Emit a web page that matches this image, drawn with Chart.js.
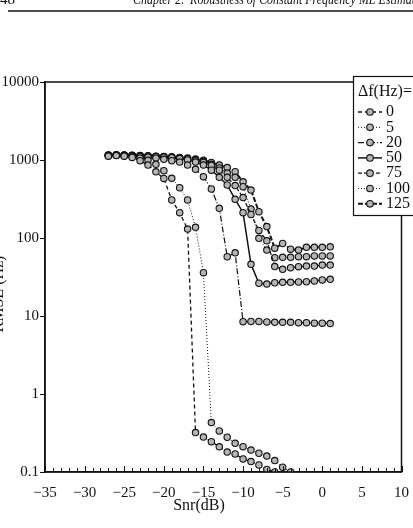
<!DOCTYPE html>
<html>
<head>
<meta charset="utf-8">
<script src="https://cdn.jsdelivr.net/npm/chart.js@4"></script>
<style>
  html, body { margin: 0; padding: 0; background: #fff; }
  canvas { display: block; }
</style>
</head>
<body>
<canvas id="chartRmse" width="413" height="528"></canvas>
<script>
// snr axis values (dB), one point per dB
const snr = [-27, -26, -25, -24, -23, -22, -21, -20, -19, -18, -17, -16, -15, -14,
             -13, -12, -11, -10, -9, -8, -7, -6, -5, -4, -3, -2, -1, 0, 1];

// RMSE (Hz) per frequency offset
const rmse0   = [1120, 1140, 1120, 1080, 980, 860, 705, 580, 307, 211, 130, 0.32, 0.28, 0.245,
                 0.21, 0.18, 0.17, 0.147, 0.136, 0.123, 0.108, 0.1, null, null, null, null, null, null, null];
const rmse5   = [1130, 1150, 1130, 1110, 1060, 990, 880, 730, 582, 442, 307, 137, 35.9, 0.43,
                 0.336, 0.279, 0.233, 0.211, 0.191, 0.174, 0.16, 0.14, 0.115, 0.1, null, null, null, null, null];
const rmse20  = [1140, 1150, 1140, 1130, 1110, 1090, 1060, 1020, 980, 940, 860, 760, 611, 425,
                 240, 57.5, 64.5, 8.45, 8.5, 8.5, 8.4, 8.3, 8.3, 8.3, 8.2, 8.2, 8.1, 8.1, 8.0];
const rmse50  = [1150, 1160, 1150, 1140, 1130, 1120, 1110, 1090, 1070, 1040, 1000, 940, 860, 740,
                 600, 478, 313, 211, 46, 26.3, 25.7, 26.7, 27, 27, 27.3, 27.5, 28.1, 29, 29.5];
const rmse75  = [1150, 1160, 1150, 1140, 1130, 1120, 1110, 1100, 1080, 1060, 1030, 990, 930, 850,
                 740, 600, 470, 330, 200, 125, 92, 43, 39.7, 41.6, 42.9, 43.6, 43.6, 45, 45];
const rmse100 = [1140, 1150, 1140, 1130, 1120, 1110, 1100, 1090, 1080, 1060, 1040, 1010, 960, 880,
                 790, 680, 600, 455, 235, 99, 70, 56, 56.6, 56.6, 57.6, 57.6, 58.9, 58.9, 58.9];
const rmse125 = [1160, 1170, 1160, 1150, 1140, 1130, 1120, 1110, 1100, 1080, 1060, 1030, 990, 930,
                 860, 800, 707, 525, 412, 217, 140, 74, 85, 72, 70, 76, 76, 76, 77];

const offsets = ['0', '5', '20', '50', '75', '100', '125'];
const series  = [rmse0, rmse5, rmse20, rmse50, rmse75, rmse100, rmse125];

const xTickValues = [-35, -30, -25, -20, -15, -10, -5, 0, 5, 10];
const yTickValues = [0.1, 1, 10, 100, 1000, 10000];

// line look per curve
const dashes = [[4, 3], [1, 2], [6, 2, 1, 2], [], [4, 2], [1, 2], [5, 2]];
const widths = [1.3, 1, 1.2, 1.5, 1.3, 1, 2];

const tickFont = { family: 'Liberation Serif', size: 15 };
const minus = v => String(v).replace('-', '\u2212');

const toPoints = vals => snr.map((x, i) => ({ x: x, y: vals[i] })).filter(p => p.y !== null);

const decor = {
    id: 'decor',
    afterDraw(chart) {
        const c = chart.ctx;
        const a = chart.chartArea;
        const xs = chart.scales.x;
        c.save();
        c.strokeStyle = '#111';
        c.fillStyle = '#111';

        // plot frame
        c.lineWidth = 1.5;
        c.strokeRect(a.left, a.top, a.right - a.left, a.bottom - a.top);

        // inward ticks on x axis, every dB
        c.lineWidth = 1;
        for (let v = -35; v <= 10; v++) {
            const px = Math.round(xs.getPixelForValue(v)) + 0.5;
            const len = v % 5 === 0 ? 6 : 4;
            c.beginPath();
            c.moveTo(px, a.bottom);
            c.lineTo(px, a.bottom - len);
            c.stroke();
        }

        // axis titles
        c.font = '16px "Liberation Serif"';
        c.textAlign = 'center';
        c.textBaseline = 'alphabetic';
        c.fillText('Snr(dB)', 199, 510);
        c.save();
        c.translate(3, 294);
        c.rotate(-Math.PI / 2);
        c.fillText('RMSE (Hz)', 0, 0);
        c.restore();

        // page header (cut off at the top and right like the scan)
        c.textAlign = 'left';
        c.font = '15px "Liberation Serif"';
        c.fillText('48', 0, 4);
        const head = 'Chapter 2.  Robustness of Constant Frequency ML Estimat';
        c.font = 'italic 15px "Liberation Serif"';
        const k = 282 / c.measureText(head).width;
        c.save();
        c.translate(133, 4);
        c.scale(k, 1);
        c.fillText(head + 'ors', 0, 0);
        c.restore();
        c.lineWidth = 1.5;
        c.beginPath();
        c.moveTo(8, 11);
        c.lineTo(413, 11);
        c.stroke();

        // legend box
        const bx = 353, by = 76, bw = 70, bh = 139;
        c.fillStyle = '#fff';
        c.fillRect(bx, by, bw, bh);
        c.lineWidth = 1.2;
        c.strokeRect(bx + 0.5, by + 0.5, bw, bh);
        c.fillStyle = '#111';
        c.font = '16px "Liberation Serif"';
        c.textBaseline = 'middle';
        c.fillText('\u0394f(Hz)=', bx + 5, by + 16);
        chart.data.datasets.forEach((ds, i) => {
            const yy = by + 36 + i * 15.3;
            c.setLineDash(ds.borderDash);
            c.lineWidth = ds.borderWidth;
            c.beginPath();
            c.moveTo(bx + 5, yy);
            c.lineTo(bx + 29, yy);
            c.stroke();
            c.setLineDash([]);
            c.beginPath();
            c.arc(bx + 17, yy, 3.3, 0, Math.PI * 2);
            c.fillStyle = '#b5b5b5';
            c.fill();
            c.lineWidth = 1.1;
            c.stroke();
            c.fillStyle = '#111';
            c.fillText(offsets[i], bx + 33, yy);
        });
        c.restore();
    }
};

new Chart(document.getElementById('chartRmse'), {
    type: 'line',
    data: {
        datasets: series.map((vals, i) => ({
            label: offsets[i],
            data: toPoints(vals),
            borderColor: '#111',
            borderWidth: widths[i],
            borderDash: dashes[i],
            pointRadius: 3.2,
            pointBackgroundColor: '#b5b5b5',
            pointBorderColor: '#111',
            pointBorderWidth: 1.1,
            tension: 0
        }))
    },
    options: {
        responsive: false,
        animation: false,
        layout: { padding: { top: 82, right: 10, left: 0, bottom: 0 } },
        plugins: { legend: { display: false }, tooltip: { enabled: false } },
        scales: {
            x: {
                type: 'linear',
                min: -35,
                max: 10,
                afterBuildTicks: s => { s.ticks = xTickValues.map(v => ({ value: v })); },
                afterFit: s => { s.height = 56; },
                grid: { display: false },
                border: { display: true, color: '#111', width: 1.5 },
                ticks: { color: '#111', font: tickFont, padding: 4, maxRotation: 0, callback: v => minus(v) }
            },
            y: {
                type: 'logarithmic',
                min: 0.1,
                max: 10000,
                afterBuildTicks: s => { s.ticks = yTickValues.map(v => ({ value: v })); },
                afterFit: s => { s.width = 45; },
                grid: { drawOnChartArea: false, drawTicks: true, tickLength: 5, color: '#111' },
                border: { display: true, color: '#111', width: 1.5 },
                ticks: { color: '#111', font: tickFont, padding: 1, autoSkip: false, callback: v => String(v) }
            }
        }
    },
    plugins: [decor]
});
</script>
</body>
</html>
